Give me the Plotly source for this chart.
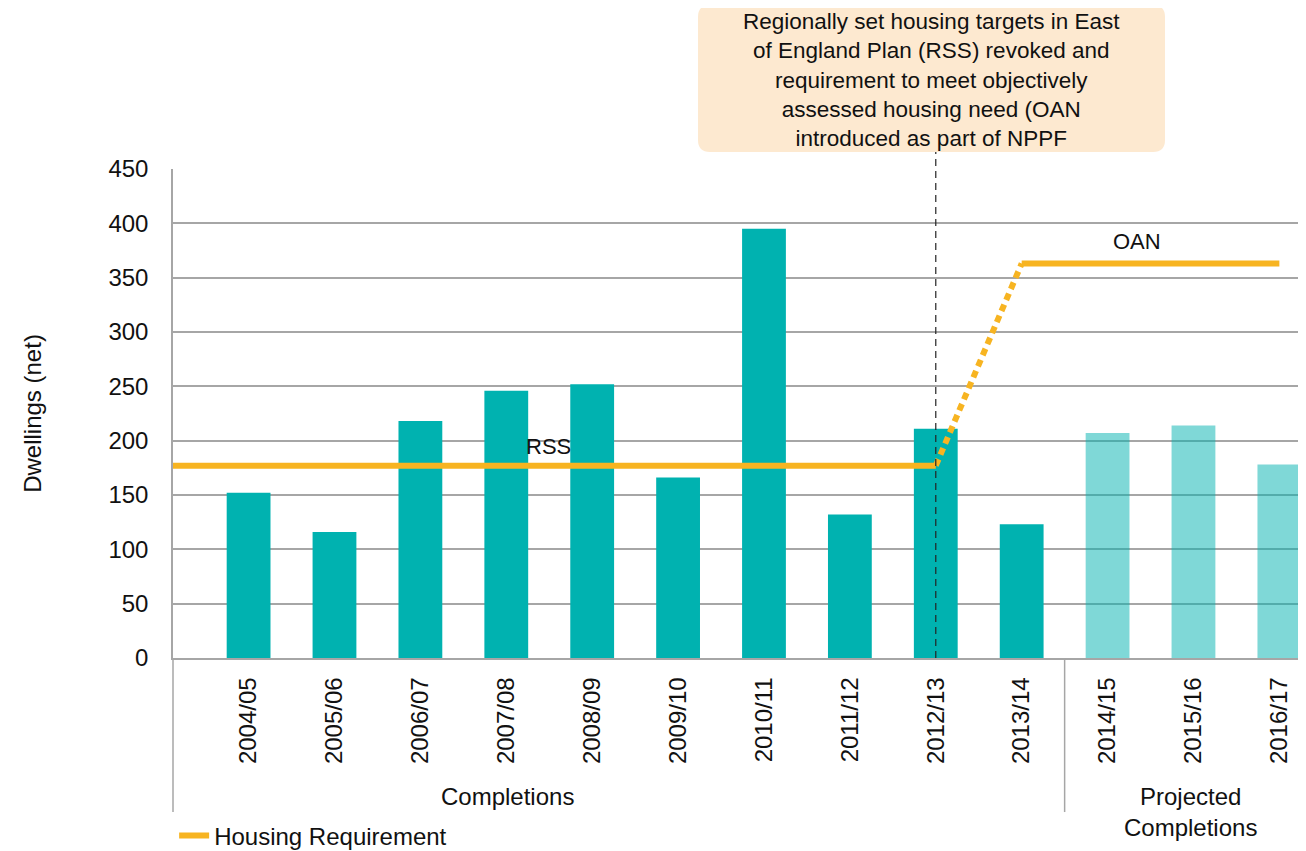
import plotly.graph_objects as go

# ---- data ----
categories = ["2004/05", "2005/06", "2006/07", "2007/08", "2008/09", "2009/10",
              "2010/11", "2011/12", "2012/13", "2013/14", "2014/15", "2015/16", "2016/17"]
completions = [152, 116, 218, 246, 252, 166, 395, 132, 211, 123, None, None, None]
projected = [None, None, None, None, None, None, None, None, None, None, 207, 214, 178]

rss_x = [-0.88, 8]
rss_y = [177, 177]
transition_x = [8, 9]
transition_y = [177, 363]
oan_x = [9, 12]
oan_y = [363, 363]

y_ticks = [0, 50, 100, 150, 200, 250, 300, 350, 400, 450]

FONT = "Liberation Sans, Arial, sans-serif"
TEAL = "#00B2B0"
ORANGE = "#F7B421"
GRID = "#A6A6A6"

xs = list(range(len(categories)))

fig = go.Figure()
fig.add_trace(go.Bar(x=xs, y=completions, width=0.51, marker=dict(color=TEAL, line=dict(width=0)),
                     showlegend=False, name="Completions"))
fig.add_trace(go.Bar(x=xs, y=projected, width=0.51,
                     marker=dict(color="rgba(0,178,176,0.5)", line=dict(width=0)),
                     showlegend=False, name="Projected Completions"))
fig.add_trace(go.Scatter(x=rss_x, y=rss_y, mode="lines", line=dict(color=ORANGE, width=6),
                         name="Housing Requirement", showlegend=True))
fig.add_trace(go.Scatter(x=transition_x, y=transition_y, mode="lines",
                         line=dict(color=ORANGE, width=6, dash="7px,5px"), showlegend=False))
fig.add_trace(go.Scatter(x=oan_x, y=oan_y, mode="lines", line=dict(color=ORANGE, width=6),
                         showlegend=False))

# rounded annotation box (paper coords)
x0, x1 = (698 - 173) / 1133, (1165 - 173) / 1133
y0, y1 = (658 - 152) / 489, (658 - 5) / 489
rx, ry = 12 / 1133, 12 / 489
path = (f"M{x0+rx},{y0} L{x1-rx},{y0} Q{x1},{y0} {x1},{y0+ry} L{x1},{y1-ry} Q{x1},{y1} {x1-rx},{y1} "
        f"L{x0+rx},{y1} Q{x0},{y1} {x0},{y1-ry} L{x0},{y0+ry} Q{x0},{y0} {x0+rx},{y0} Z")

shapes = [
    dict(type="path", path=path, xref="paper", yref="paper", fillcolor="#FDE9D0",
         line=dict(width=0), layer="above"),
    dict(type="line", xref="x", yref="paper", x0=8, x1=8, y0=0, y1=y0,
         line=dict(color="#222222", width=1.2, dash="7px,5px")),
    dict(type="line", xref="x", yref="paper", x0=9.5, x1=9.5, y0=0, y1=-0.315,
         line=dict(color=GRID, width=1.5)),
    dict(type="line", xref="paper", yref="paper", x0=0, x1=0, y0=0, y1=-0.315,
         line=dict(color=GRID, width=1.5)),
]

annotations = [
    dict(text="Regionally set housing targets in East<br>of England Plan (RSS) revoked and<br>"
              "requirement to meet objectively<br>assessed housing need (OAN<br>introduced as part of NPPF",
         xref="paper", yref="paper", x=(x0 + x1) / 2, y=(y0 + y1) / 2 - 0.004, xanchor="center",
         yanchor="middle", showarrow=False, borderpad=0,
         font=dict(family=FONT, size=22.5, color="#111111"), align="center"),
    dict(text="RSS", x=3.49, y=195, xref="x", yref="y", showarrow=False,
         font=dict(family=FONT, size=22, color="#111111")),
    dict(text="OAN", x=10.34, y=383, xref="x", yref="y", showarrow=False,
         font=dict(family=FONT, size=22, color="#111111")),
    dict(text="Completions", xref="paper", yref="paper", x=(507 - 173) / 1133, y=-0.284,
         xanchor="center", yanchor="middle", showarrow=False,
         font=dict(family=FONT, size=24, color="#111111")),
    dict(text="Projected<br>Completions", xref="paper", yref="paper", x=(1190 - 173) / 1133, y=-0.315,
         xanchor="center", yanchor="middle", showarrow=False,
         font=dict(family=FONT, size=24, color="#111111")),
]

fig.update_layout(
    width=1298, height=843,
    margin=dict(l=165, r=0, t=161, b=193),
    plot_bgcolor="white", paper_bgcolor="white",
    font=dict(family=FONT, size=24, color="#111111"),
    barmode="overlay",
    shapes=shapes,
    annotations=annotations,
    legend=dict(orientation="h", x=0.001, xref="paper", y=1 - 828 / 843, yref="container",
                xanchor="left", yanchor="middle",
                font=dict(family=FONT, size=24, color="#111111"), bgcolor="rgba(0,0,0,0)"),
    xaxis=dict(range=[-0.88, 12.31], tickmode="array", tickvals=xs, ticktext=categories,
               tickangle=-90, showgrid=False, zeroline=False, showline=True, linecolor=GRID,
               linewidth=1.5, ticks="", ticklabelstandoff=8, automargin=False,
               tickfont=dict(family=FONT, size=24, color="#111111")),
    yaxis=dict(range=[0, 450], tickvals=y_ticks, showgrid=True, gridcolor=GRID, gridwidth=1.5,
               zeroline=False, showline=True, linecolor=GRID, linewidth=1.5, ticks="",
               ticklabelstandoff=18, tickfont=dict(family=FONT, size=24, color="#111111"),
               automargin=False,
               title=dict(text="Dwellings (net)", standoff=60,
                          font=dict(family=FONT, size=24, color="#111111"))),
)

fig.write_html("out.html")
